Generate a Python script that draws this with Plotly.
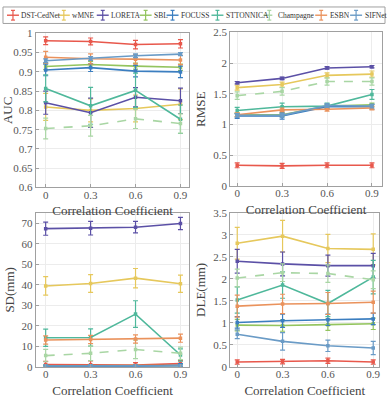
import plotly.graph_objects as go
from plotly.subplots import make_subplots

corr = [0, 0.3, 0.6, 0.9]

methods = ['DST-CedNet', 'wMNE', 'LORETA', 'SBL', 'FOCUSS',
           'STTONNICA', 'Champagne', 'ESBN', 'SIFNet']
colors = ['#E8584C', '#E6C85C', '#5B50A6', '#93C45E', '#3B7EC0',
          '#4FB89B', '#A9D6A4', '#EA925C', '#6A9BC6']

# AUC
auc_mean = {
    'DST-CedNet': [0.981, 0.979, 0.971, 0.973],
    'wMNE': [0.809, 0.800, 0.805, 0.816],
    'LORETA': [0.820, 0.794, 0.834, 0.825],
    'SBL': [0.914, 0.919, 0.915, 0.912],
    'FOCUSS': [0.905, 0.911, 0.902, 0.900],
    'STTONNICA': [0.857, 0.812, 0.852, 0.777],
    'Champagne': [0.753, 0.760, 0.778, 0.766],
    'ESBN': [0.938, 0.934, 0.933, 0.931],
    'SIFNet': [0.929, 0.935, 0.942, 0.946],
}
auc_err = {
    'DST-CedNet': [0.010, 0.009, 0.011, 0.011],
    'wMNE': [0.035, 0.030, 0.035, 0.040],
    'LORETA': [0.030, 0.038, 0.025, 0.033],
    'SBL': [0.008, 0.008, 0.008, 0.008],
    'FOCUSS': [0.015, 0.010, 0.015, 0.015],
    'STTONNICA': [0.035, 0.048, 0.045, 0.037],
    'Champagne': [0.027, 0.027, 0.025, 0.025],
    'ESBN': [0.015, 0.013, 0.012, 0.012],
    'SIFNet': [0.005, 0.005, 0.005, 0.004],
}

# RMSE
rmse_mean = {
    'DST-CedNet': [0.34, 0.33, 0.34, 0.34],
    'wMNE': [1.60, 1.65, 1.80, 1.82],
    'LORETA': [1.68, 1.75, 1.92, 1.94],
    'SBL': [1.16, 1.16, 1.30, 1.32],
    'FOCUSS': [1.14, 1.14, 1.29, 1.29],
    'STTONNICA': [1.23, 1.29, 1.30, 1.49],
    'Champagne': [1.47, 1.54, 1.70, 1.70],
    'ESBN': [1.16, 1.24, 1.25, 1.27],
    'SIFNet': [1.15, 1.15, 1.31, 1.30],
}
rmse_err = {
    'DST-CedNet': [0.04, 0.04, 0.04, 0.04],
    'wMNE': [0.04, 0.04, 0.04, 0.05],
    'LORETA': [0.02, 0.02, 0.02, 0.02],
    'SBL': [0.03, 0.03, 0.03, 0.03],
    'FOCUSS': [0.04, 0.05, 0.03, 0.04],
    'STTONNICA': [0.05, 0.06, 0.05, 0.08],
    'Champagne': [0.06, 0.06, 0.06, 0.06],
    'ESBN': [0.03, 0.03, 0.03, 0.03],
    'SIFNet': [0.03, 0.03, 0.03, 0.03],
}

# SD (mm)
sd_mean = {
    'DST-CedNet': [1.2, 1.1, 0.9, 1.6],
    'wMNE': [39.4, 40.6, 43.2, 40.5],
    'LORETA': [67.3, 67.5, 68.0, 69.8],
    'SBL': [0.5, 0.5, 0.5, 0.6],
    'FOCUSS': [0.3, 0.3, 0.3, 0.8],
    'STTONNICA': [14.2, 14.3, 25.7, 5.8],
    'Champagne': [5.5, 6.6, 8.5, 6.6],
    'ESBN': [13.1, 13.3, 13.6, 14.0],
    'SIFNet': [0.4, 0.4, 0.4, 0.5],
}
sd_err = {
    'DST-CedNet': [1.5, 1.8, 1.2, 1.5],
    'wMNE': [4.5, 4.3, 4.7, 4.2],
    'LORETA': [3.2, 3.3, 2.8, 3.0],
    'SBL': [0.5, 0.5, 0.5, 0.5],
    'FOCUSS': [0.5, 0.5, 0.5, 0.8],
    'STTONNICA': [4.2, 4.2, 6.5, 3.0],
    'Champagne': [3.0, 3.5, 4.5, 3.0],
    'ESBN': [2.0, 2.0, 2.0, 2.0],
    'SIFNet': [0.5, 0.5, 0.5, 0.5],
}

# DLE (mm)
dle_mean = {
    'DST-CedNet': [0.11, 0.12, 0.14, 0.11],
    'wMNE': [2.81, 2.97, 2.69, 2.67],
    'LORETA': [2.40, 2.34, 2.30, 2.30],
    'SBL': [0.95, 0.94, 0.96, 0.98],
    'FOCUSS': [1.01, 1.05, 1.07, 1.09],
    'STTONNICA': [1.52, 1.86, 1.44, 2.04],
    'Champagne': [2.02, 2.14, 2.12, 1.98],
    'ESBN': [1.38, 1.43, 1.44, 1.47],
    'SIFNet': [0.74, 0.58, 0.48, 0.43],
}
dle_err = {
    'DST-CedNet': [0.05, 0.05, 0.06, 0.05],
    'wMNE': [0.36, 0.36, 0.32, 0.35],
    'LORETA': [0.27, 0.27, 0.24, 0.28],
    'SBL': [0.13, 0.13, 0.13, 0.13],
    'FOCUSS': [0.13, 0.15, 0.13, 0.13],
    'STTONNICA': [0.30, 0.30, 0.30, 0.38],
    'Champagne': [0.20, 0.20, 0.20, 0.20],
    'ESBN': [0.25, 0.22, 0.25, 0.25],
    'SIFNet': [0.10, 0.20, 0.13, 0.15],
}

panels = [(auc_mean, auc_err, 1, 1), (rmse_mean, rmse_err, 1, 2),
          (sd_mean, sd_err, 2, 1), (dle_mean, dle_err, 2, 2)]

fig = make_subplots(rows=2, cols=2)

for means, errs, r, c in panels:
    for m, col in zip(methods, colors):
        dash = 'dash' if m == 'Champagne' else 'solid'
        fig.add_trace(go.Scatter(
            x=corr, y=means[m], mode='lines+markers', name=m,
            showlegend=False,
            line=dict(color=col, width=1.6, dash=dash),
            marker=dict(symbol='square', size=3.5, color=col),
            error_y=dict(type='data', array=errs[m], color=col,
                         thickness=1.2, width=2.5),
        ), row=r, col=c)

serif = 'Liberation Serif, Times New Roman, serif'
axis_style = dict(showline=True, mirror=True, linecolor='#a0a0a0', linewidth=1,
                  showgrid=True, gridcolor='#ececec', gridwidth=1,
                  ticks='inside', ticklen=3, tickcolor='#a0a0a0',
                  tickfont=dict(family=serif, size=11, color='#555555'),
                  zeroline=False)

xt = dict(tickvals=corr, ticktext=['0', '0.3', '0.6', '0.9'], ticklabelstandoff=-3,
          title=dict(text='Correlation Coefficient', standoff=6,
                     font=dict(family=serif, size=13, color='#444444')))

fig.update_layout(
    xaxis=dict(domain=[0.092, 0.487], range=[-0.066, 0.96], **xt, **axis_style),
    xaxis2=dict(domain=[0.592, 0.982], range=[-0.046, 0.967], **xt, **axis_style),
    xaxis3=dict(domain=[0.092, 0.487], range=[-0.066, 0.96], **xt, **axis_style),
    xaxis4=dict(domain=[0.592, 0.975], range=[-0.046, 0.94], **xt, **axis_style),
    yaxis=dict(domain=[0.536, 0.93], range=[0.6, 1.0], dtick=0.05,
               title=dict(text='AUC', standoff=4,
                          font=dict(family=serif, size=13, color='#444444')),
               **axis_style),
    yaxis2=dict(domain=[0.539, 0.933], range=[0, 2.5], dtick=0.5,
                title=dict(text='RMSE', standoff=4,
                           font=dict(family=serif, size=13, color='#444444')),
                **axis_style),
    yaxis3=dict(domain=[0.077, 0.471], range=[0, 75], tickvals=[0, 10, 20, 30, 40, 50, 60, 70],
                title=dict(text='SD(mm)', standoff=4,
                           font=dict(family=serif, size=13, color='#444444')),
                **axis_style),
    yaxis4=dict(domain=[0.077, 0.471], range=[0, 3.5], dtick=0.5,
                title=dict(text='DLE(mm)', standoff=4,
                           font=dict(family=serif, size=13, color='#444444')),
                **axis_style),
    width=390, height=403,
    margin=dict(l=0, r=0, t=0, b=0),
    paper_bgcolor='white', plot_bgcolor='white',
)

# hand-made legend strip across the top (Plotly's own legend is too wide here)
W, H = 390.0, 403.0
fig.add_shape(type='rect', xref='paper', yref='paper',
              x0=3 / W, x1=386 / W, y0=1 - 18 / H, y1=1 - 1 / H,
              line=dict(color='#a0a0a0', width=1), fillcolor='white')
glyph_x = [13, 64, 103, 146, 173, 218, 270, 322, 357]
yc = 1 - 9.5 / H
for m, col, gx in zip(methods, colors, glyph_x):
    dash = 'dash' if m == 'Champagne' else 'solid'
    fig.add_shape(type='line', xref='paper', yref='paper',
                  x0=(gx - 6) / W, x1=(gx + 6) / W, y0=yc, y1=yc,
                  line=dict(color=col, width=1.4, dash=dash))
    fig.add_shape(type='line', xref='paper', yref='paper',
                  x0=gx / W, x1=gx / W, y0=yc - 5 / H, y1=yc + 5 / H,
                  line=dict(color=col, width=1.2))
    for dy in (-5, 5):
        fig.add_shape(type='line', xref='paper', yref='paper',
                      x0=(gx - 2) / W, x1=(gx + 2) / W, y0=yc + dy / H, y1=yc + dy / H,
                      line=dict(color=col, width=1.2))
    fig.add_annotation(text=m, xref='paper', yref='paper', x=(gx + 6.5) / W, y=yc,
                       xanchor='left', yanchor='middle', showarrow=False,
                       font=dict(family=serif, size=7.5, color='#333333'))

# drop the default page margin so the 390x403 figure fills the window
fig.write_html('out.html', config={'displayModeBar': False},
               post_script="document.body.style.margin='0';document.body.style.overflow='hidden';")
